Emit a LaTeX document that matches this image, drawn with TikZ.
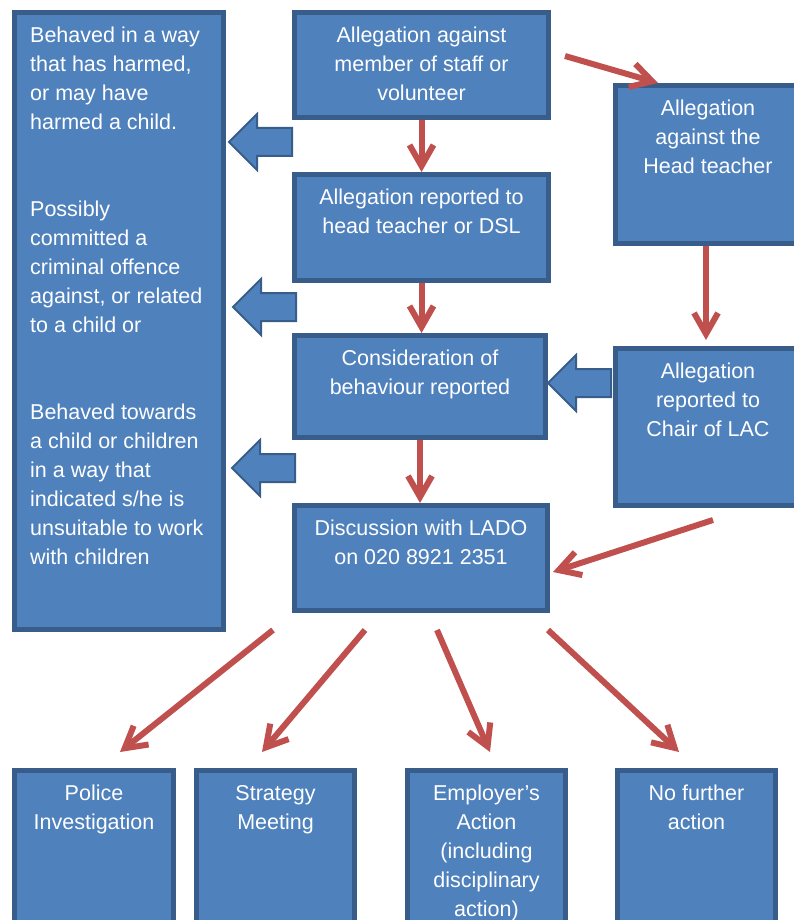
\documentclass[tikz,border=0pt]{standalone}
\usepackage{fontspec}
\setmainfont{Liberation Sans}
\usetikzlibrary{arrows.meta}
\definecolor{boxfill}{HTML}{4F81BD}
\definecolor{boxline}{HTML}{385D8A}
\definecolor{arrowred}{HTML}{C0504D}

\begin{document}
\begin{tikzpicture}[x=1pt, y=-1pt,
    box/.style={rectangle, draw=boxline, fill=boxfill, line width=5pt, inner sep=0pt},
    txt/.style={text=white, align=center, inner sep=0pt, font=\fontsize{21.5}{29}\selectfont},
    redarrow/.style={-{Straight Barb[length=21pt, width=24pt]}, draw=arrowred, line width=6pt},
    blockarrow/.style={draw=boxline, fill=boxfill, line width=2pt, line join=miter},
    fatarrow/.pic={\draw[blockarrow] (0,0) -- (28,-28) -- (28,-14) -- (63,-14) -- (63,14) -- (28,14) -- (28,28) -- cycle;}
]
\useasboundingbox (0,0) rectangle (794,920);
\clip (0,0) rectangle (794,920);

\node[box, minimum width=209, minimum height=617,
  label={[txt, align=left, anchor=north west, shift={(18,17)}]north west:{Behaved in a way\\that has harmed,\\or may have\\harmed a child.\\[58pt]Possibly\\committed a\\criminal offence\\against, or related\\to a child or\\[58pt]Behaved towards\\a child or children\\in a way that\\indicated s/he is\\unsuitable to work\\with children}}] (behav) at (119,321) {};

\node[box, minimum width=254, minimum height=105,
  label={[txt, anchor=north, shift={(0,17)}]north:{Allegation against\\member of staff or\\volunteer}}] (staff) at (421.5,65) {};
\node[box, minimum width=254, minimum height=106,
  label={[txt, anchor=north, shift={(0,17)}]north:{Allegation reported to\\head teacher or DSL}}] (head) at (421.5,227.5) {};
\node[box, minimum width=251, minimum height=102,
  label={[txt, anchor=north, shift={(0,17)}]north:{Consideration of\\behaviour reported}}] (consid) at (420,386.5) {};
\node[box, minimum width=253, minimum height=105,
  label={[txt, anchor=north, shift={(0,17)}]north:{Discussion with LADO\\on 020 8921 2351}}] (lado) at (421,558) {};

\node[box, minimum width=185, minimum height=158,
  label={[txt, anchor=north, shift={(0,17)}]north:{Allegation\\against the\\Head teacher}}] (htalleg) at (708,164.5) {};
\node[box, minimum width=185, minimum height=157,
  label={[txt, anchor=north, shift={(0,17)}]north:{Allegation\\reported to\\Chair of LAC}}] (chair) at (708,427) {};

\node[box, minimum width=159, minimum height=167,
  label={[txt, anchor=north, shift={(0,17)}]north:{Police\\Investigation}}] (police) at (94,854) {};
\node[box, minimum width=158, minimum height=167,
  label={[txt, anchor=north, shift={(0,17)}]north:{Strategy\\Meeting}}] (strategy) at (275.5,854) {};
\node[box, minimum width=158, minimum height=167,
  label={[txt, anchor=north, shift={(0,17)}]north:{Employer’s\\Action\\(including\\disciplinary\\action)}}] (employer) at (486.5,854) {};
\node[box, minimum width=158, minimum height=167,
  label={[txt, anchor=north, shift={(0,17)}]north:{No further\\action}}] (nofurther) at (696.5,854) {};

% block arrows towards the criteria
\pic at (229,142) {fatarrow};
\pic at (233,307) {fatarrow};
\pic at (232,468) {fatarrow};
\pic at (548,383) {fatarrow};

\draw[redarrow] (staff.south) -- (head.north -| staff.south);
\draw[redarrow] (head.south) -- (consid.north -| head.south);
\draw[redarrow] (consid.south) -- (lado.north -| consid.south);
\draw[redarrow] ([shift={(14,-9)}]staff.east) -- ([shift={(-50,0)}]htalleg.north);
\draw[redarrow] ([shift={(-2,0)}]htalleg.south) -- ([shift={(-2,-6)}]chair.north);
\draw[redarrow] ([shift={(5,12)}]chair.south) -- ([shift={(3,14)}]lado.east);

\draw[redarrow] ([shift={(-148,17)}]lado.south) -- ([shift={(26,-16)}]police.north);
\draw[redarrow] ([shift={(-56,17)}]lado.south) -- ([shift={(-13.5,-16)}]strategy.north);
\draw[redarrow] ([shift={(16,17)}]lado.south) -- ([shift={(3.5,-16)}]employer.north);
\draw[redarrow] ([shift={(127,17)}]lado.south) -- ([shift={(-17.5,-16)}]nofurther.north);
\end{tikzpicture}
\end{document}
